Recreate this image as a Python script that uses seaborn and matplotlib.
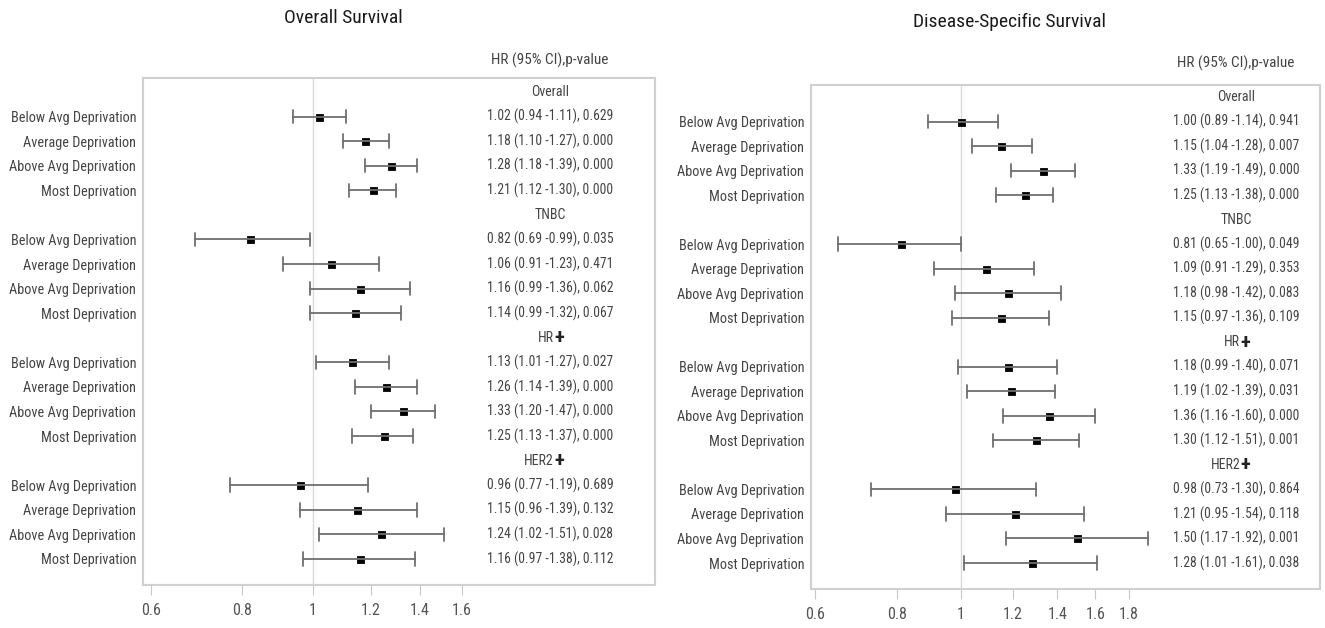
import numpy as np
import pandas as pd
import matplotlib
matplotlib.use("Agg")
import matplotlib.pyplot as plt
import matplotlib.transforms as mtransforms
from matplotlib.ticker import FixedLocator, FixedFormatter, NullLocator
import seaborn as sns

# --- data ---
groups = ["Overall", "TNBC", "HR", "HER2"]
levels = ["Below Avg Deprivation", "Average Deprivation",
          "Above Avg Deprivation", "Most Deprivation"]

os_hr = [1.02, 1.18, 1.28, 1.21, 0.82, 1.06, 1.16, 1.14,
         1.13, 1.26, 1.33, 1.25, 0.96, 1.15, 1.24, 1.16]
os_lo = [0.94, 1.10, 1.18, 1.12, 0.69, 0.91, 0.99, 0.99,
         1.01, 1.14, 1.20, 1.13, 0.77, 0.96, 1.02, 0.97]
os_hi = [1.11, 1.27, 1.39, 1.30, 0.99, 1.23, 1.36, 1.32,
         1.27, 1.39, 1.47, 1.37, 1.19, 1.39, 1.51, 1.38]
os_p = ["0.629", "0.000", "0.000", "0.000", "0.035", "0.471", "0.062", "0.067",
        "0.027", "0.000", "0.000", "0.000", "0.689", "0.132", "0.028", "0.112"]

dss_hr = [1.00, 1.15, 1.33, 1.25, 0.81, 1.09, 1.18, 1.15,
          1.18, 1.19, 1.36, 1.30, 0.98, 1.21, 1.50, 1.28]
dss_lo = [0.89, 1.04, 1.19, 1.13, 0.65, 0.91, 0.98, 0.97,
          0.99, 1.02, 1.16, 1.12, 0.73, 0.95, 1.17, 1.01]
dss_hi = [1.14, 1.28, 1.49, 1.38, 1.00, 1.29, 1.42, 1.36,
          1.40, 1.39, 1.60, 1.51, 1.30, 1.54, 1.92, 1.61]
dss_p = ["0.941", "0.007", "0.000", "0.000", "0.049", "0.353", "0.083", "0.109",
         "0.071", "0.031", "0.000", "0.001", "0.864", "0.118", "0.001", "0.038"]

os_ticks = [0.6, 0.8, 1, 1.2, 1.4, 1.6]
dss_ticks = [0.6, 0.8, 1, 1.2, 1.4, 1.6, 1.8]

sns.set_theme(style="white")
plt.rcParams["font.family"] = ["Roboto Condensed", "Liberation Sans Narrow",
                               "DejaVu Sans"]
plt.rcParams["font.stretch"] = "condensed"
TXT = "#444444"


def fmt(v):
    return f"{v:.2f}"


def forest(ax, hr, lo, hi, pv, ticks, xlim, ylim, text_x, title, title_xy, head_y):
    # row positions: one header row, then 4 data rows, per group
    rows = []
    for g in range(len(groups)):
        for k in range(len(levels)):
            rows.append(g * 5 + 1 + k)
    recs = []
    for r, a, b, c in zip(rows, lo, hr, hi):
        for v in (a, b, c):
            recs.append({"row": r, "val": v})
    df = pd.DataFrame(recs)

    ax.set_xscale("log")
    ax.axvline(1, color="#d9d9d9", lw=1, zorder=0)
    sns.pointplot(data=df, x="val", y="row", orient="h", native_scale=True,
                  estimator="median", errorbar=("pi", 100), capsize=0.55,
                  linestyle="none", marker="s", markersize=3.6, color="black",
                  err_kws={"color": "#707070", "linewidth": 1.3}, ax=ax)

    ax.set_xlim(*xlim)
    ax.set_ylim(*ylim)
    ax.xaxis.set_major_locator(FixedLocator(ticks))
    ax.xaxis.set_major_formatter(FixedFormatter([f"{t:g}" for t in ticks]))
    ax.xaxis.set_minor_locator(NullLocator())
    ax.set_yticks(rows)
    ax.set_yticklabels(levels * len(groups))
    ax.tick_params(axis="y", length=0, pad=5, labelsize=10.3, labelcolor=TXT)
    ax.tick_params(axis="x", bottom=True, length=7, width=0.8, color="#c8c8c8",
                   pad=6, labelsize=11.5, labelcolor="#555555")
    ax.set_xlabel("")
    ax.set_ylabel("")
    for s in ax.spines.values():
        s.set_color("#d0d0d0")
        s.set_linewidth(1.5)

    tr = mtransforms.blended_transform_factory(ax.transAxes, ax.transData)
    for r, a, b, c, p in zip(rows, hr, lo, hi, pv):
        ax.text(text_x, r, f"{fmt(a)} ({fmt(b)} -{fmt(c)}), {p}", transform=tr,
                ha="center", va="center", fontsize=9.8, color=TXT)
    for g, name in enumerate(groups):
        y = g * 5
        if name == "Overall" or name == "TNBC":
            ax.text(text_x, y, name, transform=tr, ha="center", va="center",
                    fontsize=10, color=TXT)
        else:
            off = mtransforms.offset_copy(tr, fig=ax.figure, x=4, y=0, units="dots")
            ax.text(text_x, y, name, transform=off, ha="right", va="center",
                    fontsize=10, color=TXT)
            ax.text(text_x, y, "+", transform=off, ha="left", va="center",
                    fontsize=15, fontweight="bold", color="#222222")

    ax.text(text_x, head_y, "HR (95% CI),p-value", transform=ax.transAxes,
            ha="center", va="center", fontsize=11, color=TXT)
    ax.figure.text(title_xy[0], title_xy[1], title, ha="center", va="center",
                   fontsize=14, color="#1a1a1a")


fig = plt.figure(figsize=(13.25, 6.28), dpi=100)
ax1 = fig.add_axes([0.1079, 0.0685, 0.3864, 0.8073])
ax2 = fig.add_axes([0.6121, 0.0621, 0.3842, 0.8025])

forest(ax1, os_hr, os_lo, os_hi, os_p, os_ticks, (0.585, 2.94), (20.06, -0.57),
       0.795, "Overall Survival", (0.259, 0.971), 1.035)
forest(ax2, dss_hr, dss_lo, dss_hi, dss_p, dss_ticks, (0.592, 3.51), (20.06, -0.49),
       0.835, "Disease-Specific Survival", (0.762, 0.965), 1.043)

fig.savefig("out.png", dpi=100)
